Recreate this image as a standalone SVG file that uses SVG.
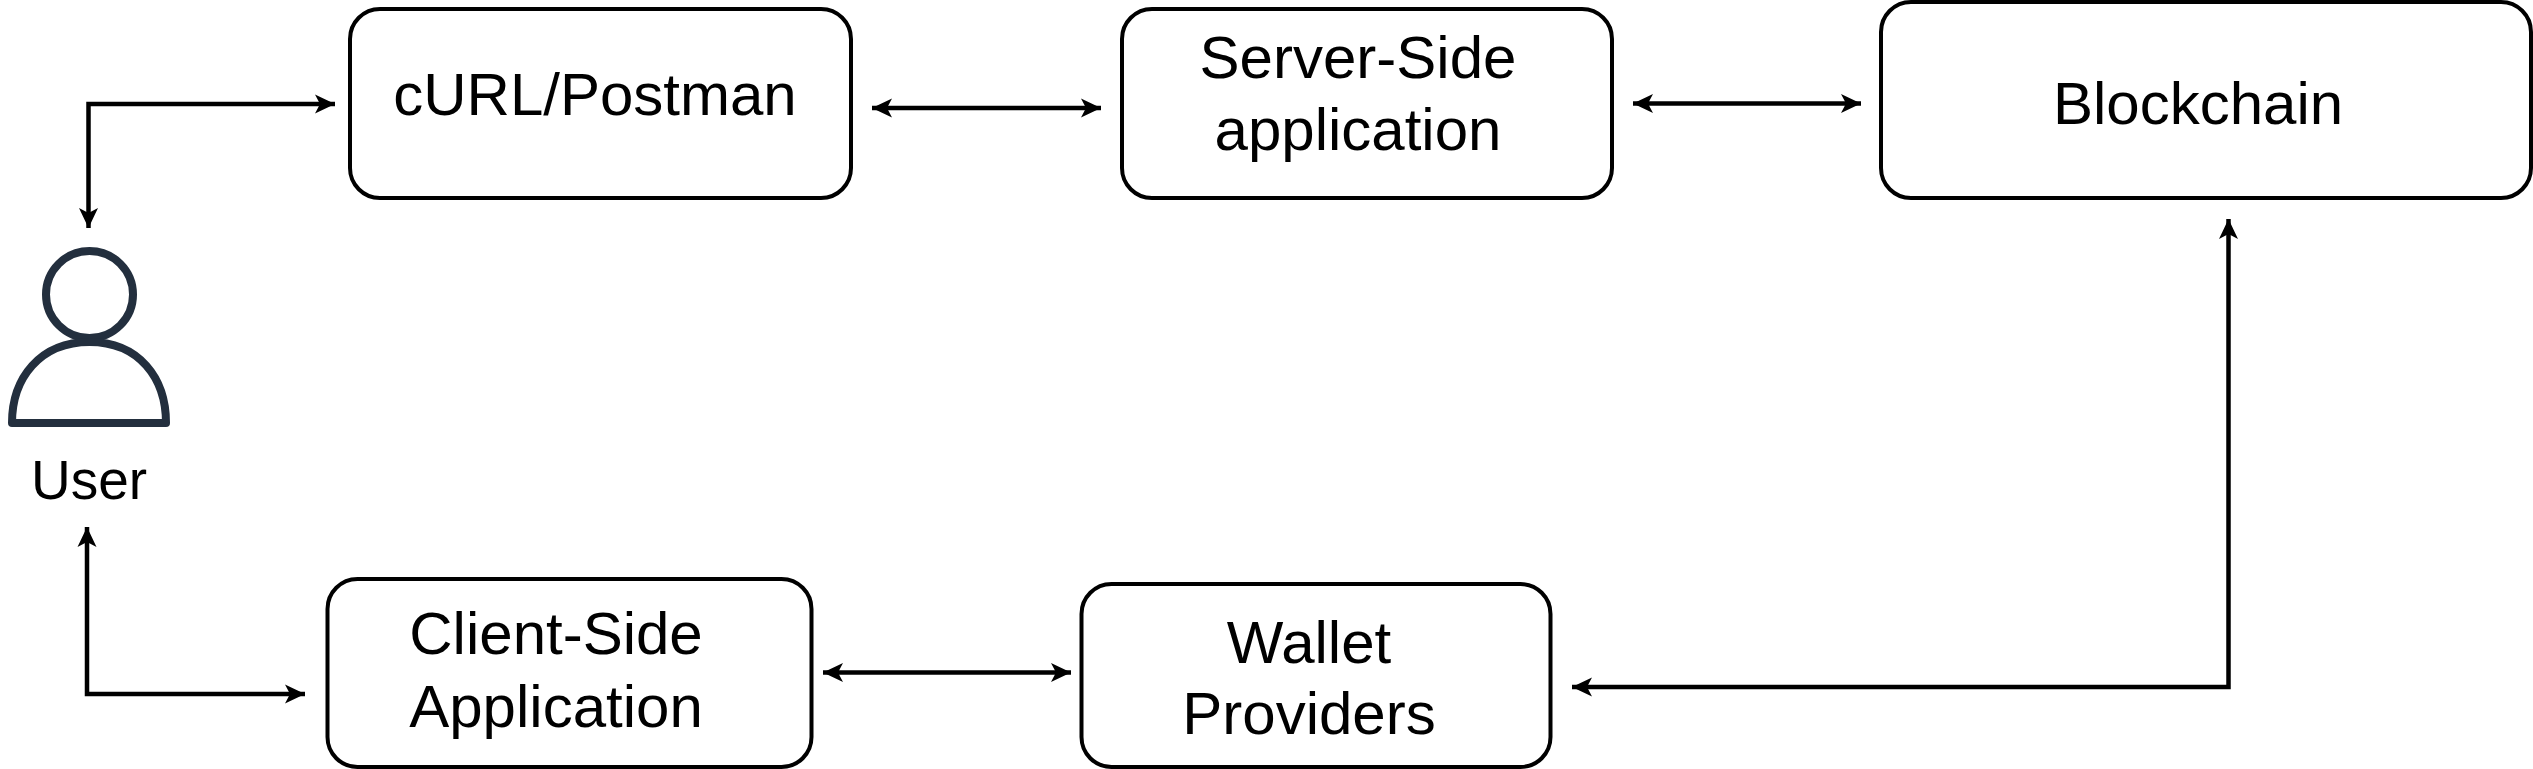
<svg xmlns="http://www.w3.org/2000/svg" width="2533" height="769" viewBox="0 0 2533 769">
<style>
.box{fill:#fff;stroke:#000;stroke-width:4}
.lbl{font-family:"Liberation Sans",Arial,sans-serif;font-size:60px;fill:#000;text-anchor:middle}
.con{fill:none;stroke:#000;stroke-width:4.500}
.icon{fill:#fff;stroke:#232f3e;stroke-width:8;stroke-linejoin:round}
</style>
<defs>
<marker id="end" markerUnits="userSpaceOnUse" markerWidth="22" markerHeight="22" viewBox="0 0 22 22" refX="20" refY="11" orient="auto"><path d="M0,1.500 L20,11 L0,20.500 L5,11 Z" fill="#000"/></marker>
<marker id="start" markerUnits="userSpaceOnUse" markerWidth="22" markerHeight="22" viewBox="0 0 22 22" refX="2" refY="11" orient="auto"><path d="M22,1.500 L2,11 L22,20.500 L17,11 Z" fill="#000"/></marker>
</defs>
<rect width="2533" height="769" fill="#fff"/>
<g id="connectors">
<path class="con" d="M335,104 H88.500 V228" marker-start="url(#start)" marker-end="url(#end)"/>
<path class="con" d="M872,108 H1101" marker-start="url(#start)" marker-end="url(#end)"/>
<path class="con" d="M1633,103.500 H1861" marker-start="url(#start)" marker-end="url(#end)"/>
<path class="con" d="M87,527 V694 H305" marker-start="url(#start)" marker-end="url(#end)"/>
<path class="con" d="M823,672.500 H1071" marker-start="url(#start)" marker-end="url(#end)"/>
<path class="con" d="M2228.500,219 V687 H1572" marker-start="url(#start)" marker-end="url(#end)"/>
</g>
<g id="user">
<circle class="icon" cx="89.500" cy="294.500" r="43.500"/>
<path class="icon" d="M12,423 C12,378 40,342 89.500,342 C139,342 166,378 166,423 Z"/>
<text class="lbl" style="font-size:55px" x="89" y="499">User</text>
</g>
<g id="curl">
<rect class="box" x="350" y="9" width="501" height="189" rx="30"/>
<text class="lbl" x="595" y="115">cURL/Postman</text>
</g>
<g id="server">
<rect class="box" x="1122" y="9" width="490" height="189" rx="30"/>
<text class="lbl" x="1358" y="78">Server-Side</text>
<text class="lbl" x="1358" y="150">application</text>
</g>
<g id="blockchain">
<rect class="box" x="1881" y="2" width="650" height="196" rx="30"/>
<text class="lbl" x="2198" y="124">Blockchain</text>
</g>
<g id="client">
<rect class="box" x="327.500" y="579" width="484" height="188" rx="30"/>
<text class="lbl" x="556" y="654">Client-Side</text>
<text class="lbl" x="556" y="727">Application</text>
</g>
<g id="wallet">
<rect class="box" x="1081.500" y="584" width="469" height="183" rx="30"/>
<text class="lbl" x="1309" y="663">Wallet</text>
<text class="lbl" x="1309" y="734">Providers</text>
</g>
</svg>
